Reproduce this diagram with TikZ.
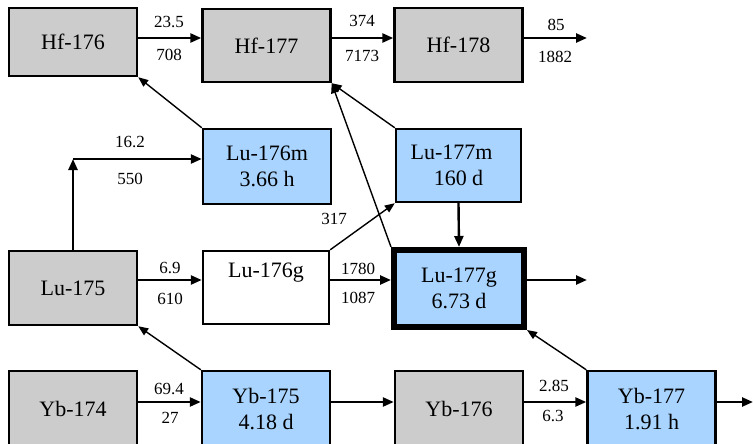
\documentclass[tikz,border=0pt]{standalone}
\usepackage{fontspec}
\setmainfont{Liberation Serif}
\usetikzlibrary{arrows.meta}
\definecolor{isogray}{RGB}{204,204,204}
\definecolor{isoblue}{RGB}{168,212,255}
\tikzset{
  box/.style={draw=black, line width=2.4pt, rectangle, align=center, inner sep=0pt,
    font=\fontsize{22}{26}\selectfont, minimum width=#1},
  box/.default=128pt,
  stable/.style={box, fill=isogray},
  radio/.style={box, fill=isoblue},
  lab/.style={font=\fontsize{17}{20}\selectfont, inner sep=0pt},
  arr/.style={line width=2.4pt, -{Triangle[length=11pt,width=9pt]}},
  darr/.style={line width=1.4pt, -{Triangle[length=10pt,width=8pt]}},
}
\begin{document}
\begin{tikzpicture}[x=1pt,y=-1pt]
\useasboundingbox (0,0) rectangle (753,444);
\clip (0,0) rectangle (753,444);
% boxes
\node[stable, minimum height=68pt] (Hf176) at (73,42) {Hf-176};
\node[stable, minimum height=73pt] (Hf177) at (266.5,45.5) {Hf-177};
\node[stable, minimum height=74pt] (Hf178) at (458.5,45) {Hf-178};
\node[radio, minimum height=75pt] (Lu176m) at (267,166.5) {Lu-176m\\3.66 h};
\node[radio, minimum height=73pt, minimum width=125pt] (Lu177m) at (458.5,165.5) {Lu-177m\hspace*{14pt}\\160 d};
\node[stable, minimum height=74pt] (Lu175) at (73,288) {Lu-175};
\node[box, fill=white, minimum height=73pt, minimum width=126pt] (Lu176g) at (266,287.5) {Lu-176g\\\strut};
\node[radio, line width=5pt, minimum height=78pt, minimum width=131pt] (Lu177g) at (459,288.5) {Lu-177g\\6.73 d};
\draw[line width=0.8pt] ([shift={(5.5pt,-5.5pt)}]Lu177g.north west) rectangle ([shift={(-5.5pt,5.5pt)}]Lu177g.south east);
\node[stable, minimum height=76pt] (Yb174) at (73,409) {Yb-174};
\node[radio, minimum height=76pt] (Yb175) at (266,409) {Yb-175\\4.18 d};
\node[stable, minimum height=76pt] (Yb176) at (459,409) {Yb-176};
\node[radio, minimum height=76pt] (Yb177) at (651.5,409) {Yb-177\\1.91 h};
% free ends
\coordinate (outHf) at (587,38);
\coordinate (outLu) at (587,280);
\coordinate (outYb) at (753,402);
\coordinate (c1) at (73,159);
% row arrows
\draw[arr] (Hf176.east |- outHf) -- (Hf177.west |- outHf);
\draw[arr] (Hf177.east |- outHf) -- (Hf178.west |- outHf);
\draw[arr] (Hf178.east |- outHf) -- (outHf);
\draw[arr] (Lu175.east |- outLu) -- (Lu176g.west |- outLu);
\draw[arr] (Lu176g.east |- outLu) -- (Lu177g.west |- outLu);
\draw[arr] (Lu177g.east |- outLu) -- (outLu);
\draw[arr] (Yb174.east |- outYb) -- (Yb175.west |- outYb);
\draw[arr] (Yb175.east |- outYb) -- (Yb176.west |- outYb);
\draw[arr] (Yb176.east |- outYb) -- (Yb177.west |- outYb);
\draw[arr] (Yb177.east |- outYb) -- (outYb);
% Lu-175 -> Lu-176m
\draw[arr] (Lu175.north |- 0,250) -- (c1);
\draw[arr] (c1) -- (Lu176m.west |- c1);
% vertical
\draw[arr] (Lu177m.south) -- (Lu177g.north);
% diagonals
\draw[darr] (Lu176m.north west) -- (Hf176.south east);
\draw[darr] (Lu177m.north west) -- (Hf177.south east);
\draw[darr] (Lu177g.north west) -- (Hf177.south east);
\draw[darr] (Lu176g.north east) -- (Lu177m.south west);
\draw[darr] (Yb175.north west) -- (Lu175.south east);
\draw[darr] (Yb177.north west) -- (Lu177g.south east);
% labels
\node[lab] (l1) at (169,22) {23.5};
\node[lab] (l2) at (169,55) {708};
\node[lab] (l3) at (362,21) {374};
\node[lab] (l4) at (362,56) {7173};
\node[lab] (l5) at (556,25) {85};
\node[lab] (l6) at (555,57) {1882};
\node[lab] (l7) at (130,142) {16.2};
\node[lab] (l8) at (130,179) {550};
\node[lab] (l9) at (334,219) {317};
\node[lab] (l10) at (170,268) {6.9};
\node[lab] (l11) at (170,299) {610};
\node[lab] (l12) at (358,269) {1780};
\node[lab] (l13) at (358,298) {1087};
\node[lab] (l14) at (169,389) {69.4};
\node[lab] (l15) at (170,418) {27};
\node[lab] (l16) at (554,386) {2.85};
\node[lab] (l17) at (553,416) {6.3};
\end{tikzpicture}
\end{document}
